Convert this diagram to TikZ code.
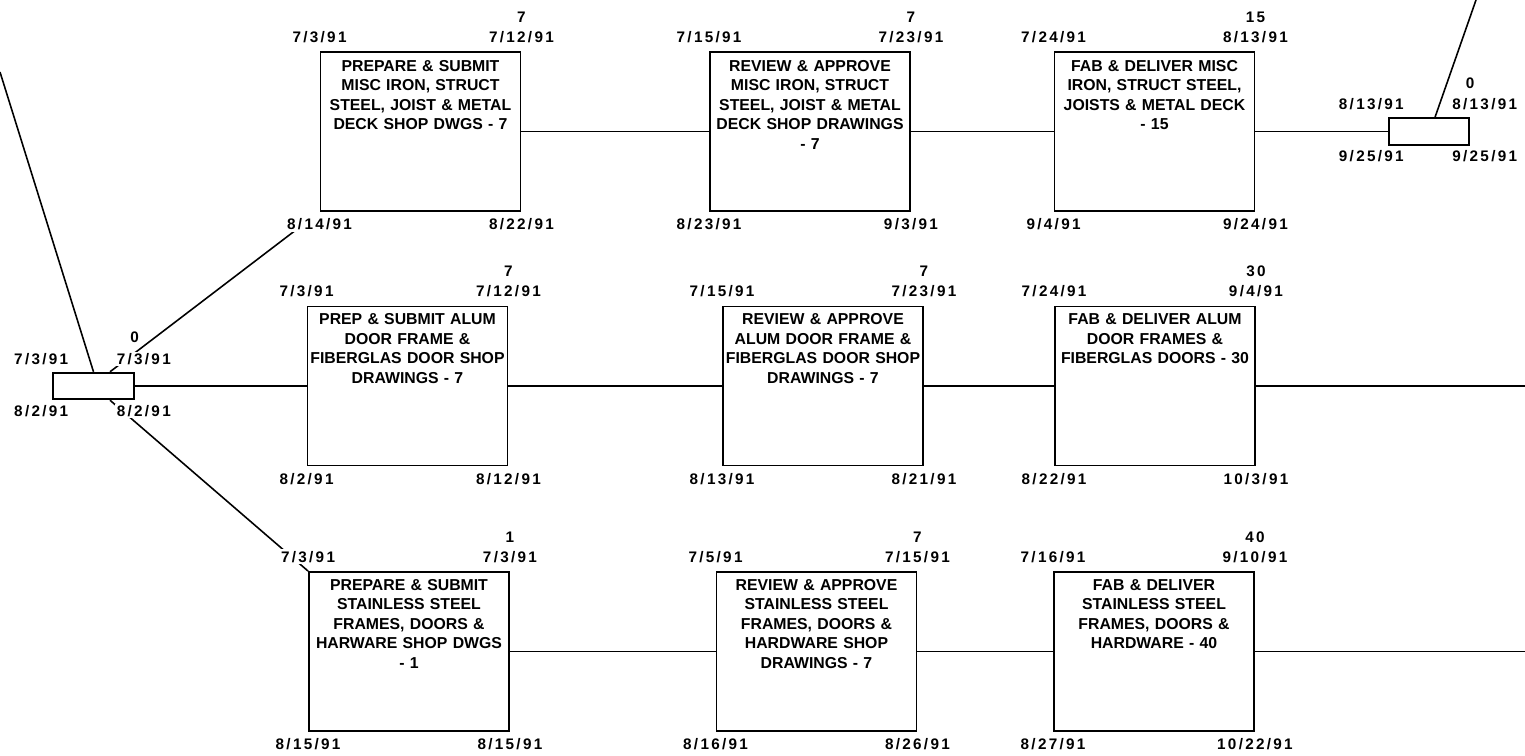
\documentclass[tikz,border=0pt]{standalone}
\usepackage{fontspec}
\setmainfont{Liberation Sans}
\newfontfamily\datefont[LetterSpace=15]{Liberation Sans}
\usetikzlibrary{positioning}

\begin{document}
\begin{tikzpicture}[x=0.02cm,y=-0.02cm,
  task/.style={draw,line width=1.1pt,minimum width=4cm,minimum height=3.18cm,inner sep=0pt},
  mile/.style={draw,line width=1.1pt,minimum width=1.61cm,minimum height=0.53cm,inner sep=0pt},
  txt/.style={inner sep=0pt,align=center,text width=4.3cm,font=\bfseries\fontsize{9}{11.1}\selectfont},
  date/.style={fill=white,inner sep=1pt,font=\datefont\bfseries\fontsize{8.7}{10}\selectfont},
  link/.style={line width=0.9pt}]
  \useasboundingbox (0,0) rectangle (1525,755);

  \node[task] (a1) at (420.5,131.5) {};
  \node[task] (a2) at (810,131.5) {};
  \node[task] (a3) at (1154.5,131.5) {};
  \node[task] (b1) at (407.5,386) {};
  \node[task] (b2) at (823,386) {};
  \node[task] (b3) at (1155,386) {};
  \node[task] (c1) at (409,651.5) {};
  \node[task] (c2) at (816.5,651.5) {};
  \node[task] (c3) at (1154,651.5) {};
  \node[mile] (m1) at (93.5,386) {};
  \node[mile] (m2) at (1429,131.5) {};

  \node[txt,below=0.18cm of a1.north] (a1t) {PREPARE \& SUBMIT\\MISC IRON, STRUCT\\STEEL, JOIST \& METAL\\DECK SHOP DWGS - 7};
  \node[txt,below=0.18cm of a2.north] (a2t) {REVIEW \& APPROVE\\MISC IRON, STRUCT\\STEEL, JOIST \& METAL\\DECK SHOP DRAWINGS\\- 7};
  \node[txt,below=0.18cm of a3.north] (a3t) {FAB \& DELIVER MISC\\IRON, STRUCT STEEL,\\JOISTS \& METAL DECK\\- 15};
  \node[txt,below=0.16cm of b1.north] (b1t) {PREP \& SUBMIT ALUM\\DOOR FRAME \&\\FIBERGLAS DOOR SHOP\\DRAWINGS - 7};
  \node[txt,below=0.16cm of b2.north] (b2t) {REVIEW \& APPROVE\\ALUM DOOR FRAME \&\\FIBERGLAS DOOR SHOP\\DRAWINGS - 7};
  \node[txt,below=0.16cm of b3.north] (b3t) {FAB \& DELIVER ALUM\\DOOR FRAMES \&\\FIBERGLAS DOORS - 30};
  \node[txt,below=0.16cm of c1.north] (c1t) {PREPARE \& SUBMIT\\STAINLESS STEEL\\FRAMES, DOORS \&\\HARWARE SHOP DWGS\\- 1};
  \node[txt,below=0.16cm of c2.north] (c2t) {REVIEW \& APPROVE\\STAINLESS STEEL\\FRAMES, DOORS \&\\HARDWARE SHOP\\DRAWINGS - 7};
  \node[txt,below=0.16cm of c3.north] (c3t) {FAB \& DELIVER\\STAINLESS STEEL\\FRAMES, DOORS \&\\HARDWARE - 40};

  \coordinate (lin) at (0,72);
  \coordinate (rin) at (1476,0);
  \coordinate (bout) at (1525,386);
  \coordinate (cout) at (1525,651.5);

  \draw[link] (a1) -- (a2);
  \draw[link] (a2) -- (a3);
  \draw[link] (a3) -- (m2);
  \draw[link] (m1) -- (b1);
  \draw[link] (b1) -- (b2);
  \draw[link] (b2) -- (b3);
  \draw[link] (b3) -- (bout);
  \draw[link] (c1) -- (c2);
  \draw[link] (c2) -- (c3);
  \draw[link] (c3) -- (cout);
  \draw[link,shorten >=0.5cm] ([xshift=0.33cm]m1.north) -- (a1.south west);
  \draw[link] ([xshift=0.33cm]m1.south) -- (c1.north west);
  \draw[link] (lin) -- (m1.north);
  \draw[link] (rin) -- ([xshift=0.12cm]m2.north);

  \node[date,above=0.13cm of a1.north west] (a1es) {7/3/91};
  \node[date,above=0.13cm of a1.north east] (a1ef) {7/12/91};
  \node[date,above=0.53cm of a1.north east] (a1d) {7};
  \node[date,below=0.09cm of a1.south west] (a1ls) {8/14/91};
  \node[date,below=0.09cm of a1.south east] (a1lf) {8/22/91};

  \node[date,above=0.13cm of a2.north west] (a2es) {7/15/91};
  \node[date,above=0.13cm of a2.north east] (a2ef) {7/23/91};
  \node[date,above=0.53cm of a2.north east] (a2d) {7};
  \node[date,below=0.09cm of a2.south west] (a2ls) {8/23/91};
  \node[date,below=0.09cm of a2.south east] (a2lf) {9/3/91};

  \node[date,above=0.13cm of a3.north west] (a3es) {7/24/91};
  \node[date,above=0.13cm of a3.north east] (a3ef) {8/13/91};
  \node[date,above=0.53cm of a3.north east] (a3d) {15};
  \node[date,below=0.09cm of a3.south west] (a3ls) {9/4/91};
  \node[date,below=0.09cm of a3.south east] (a3lf) {9/24/91};

  \node[date,above=0.13cm of b1.north west] (b1es) {7/3/91};
  \node[date,above=0.13cm of b1.north east] (b1ef) {7/12/91};
  \node[date,above=0.53cm of b1.north east] (b1d) {7};
  \node[date,below=0.09cm of b1.south west] (b1ls) {8/2/91};
  \node[date,below=0.09cm of b1.south east] (b1lf) {8/12/91};

  \node[date,above=0.13cm of b2.north west] (b2es) {7/15/91};
  \node[date,above=0.13cm of b2.north east] (b2ef) {7/23/91};
  \node[date,above=0.53cm of b2.north east] (b2d) {7};
  \node[date,below=0.09cm of b2.south west] (b2ls) {8/13/91};
  \node[date,below=0.09cm of b2.south east] (b2lf) {8/21/91};

  \node[date,above=0.13cm of b3.north west] (b3es) {7/24/91};
  \node[date,above=0.13cm of b3.north east] (b3ef) {9/4/91};
  \node[date,above=0.53cm of b3.north east] (b3d) {30};
  \node[date,below=0.09cm of b3.south west] (b3ls) {8/22/91};
  \node[date,below=0.09cm of b3.south east] (b3lf) {10/3/91};

  \node[date,above=0.13cm of c1.north west] (c1es) {7/3/91};
  \node[date,above=0.13cm of c1.north east] (c1ef) {7/3/91};
  \node[date,above=0.53cm of c1.north east] (c1d) {1};
  \node[date,below=0.09cm of c1.south west] (c1ls) {8/15/91};
  \node[date,below=0.09cm of c1.south east] (c1lf) {8/15/91};

  \node[date,above=0.13cm of c2.north west] (c2es) {7/5/91};
  \node[date,above=0.13cm of c2.north east] (c2ef) {7/15/91};
  \node[date,above=0.53cm of c2.north east] (c2d) {7};
  \node[date,below=0.09cm of c2.south west] (c2ls) {8/16/91};
  \node[date,below=0.09cm of c2.south east] (c2lf) {8/26/91};

  \node[date,above=0.13cm of c3.north west] (c3es) {7/16/91};
  \node[date,above=0.13cm of c3.north east] (c3ef) {9/10/91};
  \node[date,above=0.53cm of c3.north east] (c3d) {40};
  \node[date,below=0.09cm of c3.south west] (c3ls) {8/27/91};
  \node[date,below=0.09cm of c3.south east] (c3lf) {10/22/91};

  \node[date,anchor=south east] (m1es) at ([shift={(18,-5)}]m1.north west) {7/3/91};
  \node[date,anchor=south west] (m1ef) at ([shift={(-20,-5)}]m1.north east) {7/3/91};
  \node[date,anchor=south] (m1d) at ([shift={(0,-27)}]m1.north east) {0};
  \node[date,anchor=north east] (m1ls) at ([shift={(18,3)}]m1.south west) {8/2/91};
  \node[date,anchor=north west] (m1lf) at ([shift={(-20,3)}]m1.south east) {8/2/91};

  \node[date,anchor=south east] (m2es) at ([shift={(18,-5)}]m2.north west) {8/13/91};
  \node[date,anchor=south west] (m2ef) at ([shift={(-20,-5)}]m2.north east) {8/13/91};
  \node[date,anchor=south] (m2d) at ([shift={(0,-27)}]m2.north east) {0};
  \node[date,anchor=north east] (m2ls) at ([shift={(18,3)}]m2.south west) {9/25/91};
  \node[date,anchor=north west] (m2lf) at ([shift={(-20,3)}]m2.south east) {9/25/91};
\end{tikzpicture}
\end{document}
